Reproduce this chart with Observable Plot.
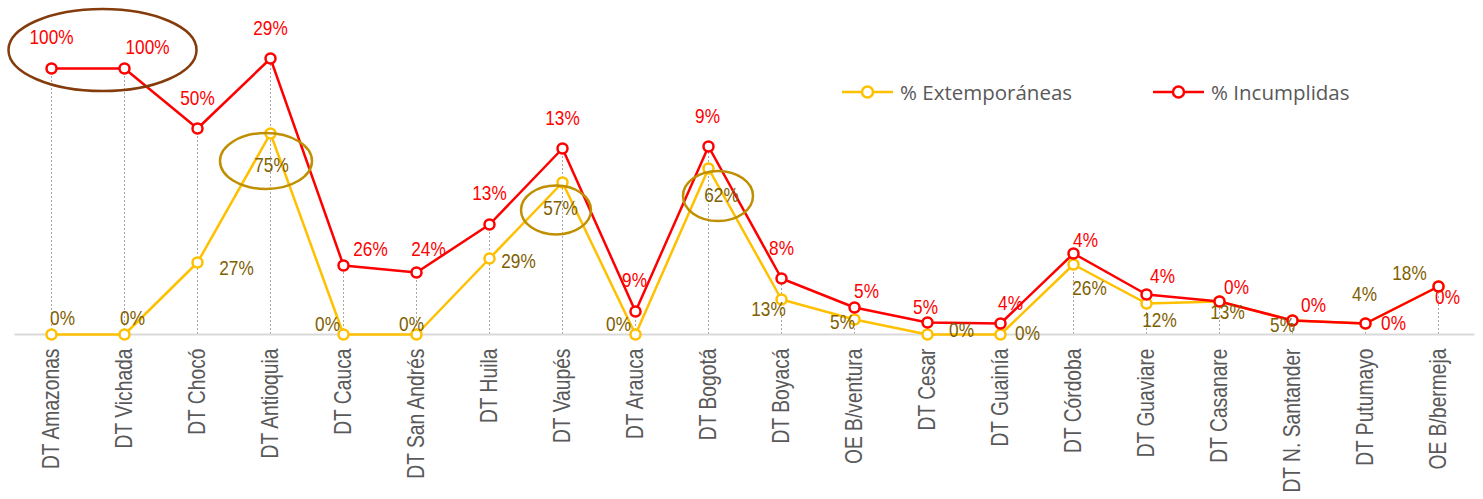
<!DOCTYPE html>
<html><head><meta charset="utf-8">
<script src="https://cdn.jsdelivr.net/npm/d3@7"></script>
<script src="https://cdn.jsdelivr.net/npm/@observablehq/plot@0.6"></script>
<style>
html,body{margin:0;padding:0;background:#fff;}
#wrap{position:relative;width:1483px;height:499px;overflow:hidden;}
.legend{position:absolute;top:78px;height:28px;font-family:"Open Sans",sans-serif;font-size:20.5px;color:#595959;display:flex;align-items:center;white-space:nowrap;}
.legend svg{margin-right:7px;}
#wrap svg [aria-label="x-axis tick label"] text{font-family:"Liberation Sans",Arial,sans-serif;font-size:23.5px;}
</style></head><body>
<div id="wrap"></div>
<script>
// ---- data ----
const categories = ["DT Amazonas","DT Vichada","DT Chocó","DT Antioquia","DT Cauca","DT San Andrés","DT Huila","DT Vaupés","DT Arauca","DT Bogotá","DT Boyacá","OE B/ventura","DT Cesar","DT Guainía","DT Córdoba","DT Guaviare","DT Casanare","DT N. Santander","DT Putumayo","OE B/bermeja"];
// plotted heights
const extemporaneas = [0,0,7.2,20.1,0,0,7.6,15.2,0,16.6,3.5,1.5,0,0,7.0,3.1,3.3,1.4,1.1,4.8];
const incumplidas   = [26.6,26.6,20.6,27.6,6.9,6.2,11.0,18.6,2.3,18.8,5.6,2.7,1.2,1.1,8.1,4.0,3.3,1.4,1.1,4.8];
// data labels shown on the chart
const extLabels = ["0%","0%","27%","75%","0%","0%","29%","57%","0%","62%","13%","5%","0%","0%","26%","12%","13%","5%","4%","18%"];
const incLabels = ["100%","100%","50%","29%","26%","24%","13%","13%","9%","9%","8%","5%","5%","4%","4%","4%","0%","0%","0%","0%"];
const seriesNames = ["% Extemporáneas","% Incumplidas"];

// ---- layout (label placement relative to each point, annotations) ----
const extLabelOffset = [[11,-16],[8,-16],[39,6],[1,32],[-16,-10],[-5,-10],[29,3],[-2,26],[-17,-10],[13,27],[-13,10],[-12,3],[34,-4],[27,-1],[16,24],[13,17],[8,11],[-10,5],[-1,-29],[-29,-13]];
const incLabelOffset = [[0,-31],[23,-21],[0,-30],[0,-30],[27,-16],[12,-23],[0,-31],[0,-30],[-1,-31],[-1,-30],[0,-30],[12,-16],[-2,-15],[10,-20],[12,-13],[16,-18],[17,-14],[21,-15],[28,0],[9,11]];
const ellipses = [
  {cats:["DT Amazonas","DT Vichada"], series:"inc", dx:15, dy:-18, rx:94, ry:41, color:"#843C0C"},
  {cats:["DT Antioquia"], series:"ext", dx:-4, dy:28, rx:46, ry:28, color:"#BF8F00"},
  {cats:["DT Vaupés"], series:"ext", dx:-6, dy:28, rx:35, ry:24.5, color:"#BF8F00"},
  {cats:["DT Bogotá"], series:"ext", dx:10, dy:28, rx:35, ry:25, color:"#BF8F00"}
];

const RED = "#FF0000", YEL = "#FFC000", YEL_TXT = "#7F6000";
const NARROW = 0.82; // emulate a narrow face by horizontal compression
const data = categories.map((c,i)=>({cat:c, ext:extemporaneas[i], inc:incumplidas[i], top:Math.max(extemporaneas[i],incumplidas[i]), extL:extLabels[i], incL:incLabels[i], eo:extLabelOffset[i], io:incLabelOffset[i]}));
const labelFont = {fontFamily:'"Liberation Sans",Arial,sans-serif', fontSize:21};

const marks = [
  Plot.ruleX(data,{x:"cat", y1:0, y2:"top", stroke:"#a6a6a6", strokeDasharray:"2,2", strokeWidth:1}),
  Plot.ruleY([0],{stroke:"#d9d9d9", strokeWidth:2}),
  Plot.axisX({tickRotate:-90, tickSize:0, tickPadding:14, fill:"#595959", label:null}),
  Plot.line(data,{x:"cat", y:"ext", stroke:YEL, strokeWidth:2.5}),
  Plot.dot(data,{x:"cat", y:"ext", r:5, stroke:YEL, fill:"white", strokeWidth:2.5}),
  Plot.line(data,{x:"cat", y:"inc", stroke:RED, strokeWidth:2.5}),
  Plot.dot(data,{x:"cat", y:"inc", r:5, stroke:RED, fill:"white", strokeWidth:2.5}),
  ...data.map(d=>Plot.text([d],{x:"cat", y:"ext", text:"extL", dx:d.eo[0], dy:d.eo[1], fill:YEL_TXT, ...labelFont})),
  ...data.map(d=>Plot.text([d],{x:"cat", y:"inc", text:"incL", dx:d.io[0], dy:d.io[1], fill:RED, ...labelFont}))
];

const plot = Plot.plot({
  width:1483, height:499,
  marginLeft:14.5, marginRight:8.5, marginTop:34, marginBottom:165,
  x:{type:"point", domain:categories, padding:0.5, label:null},
  y:{domain:[0,30], axis:null},
  style:{background:"white"},
  marks
});

const svg = d3.select(plot);
// narrow the axis tick labels along their reading direction
svg.selectAll('[aria-label="x-axis tick label"] text').each(function(){
  const t = this.getAttribute("transform") || "";
  this.setAttribute("transform", t + ` scale(${NARROW},1)`);
});

// annotation ellipses anchored on the data points through the plot scales
const sx = plot.scale("x"), sy = plot.scale("y");
ellipses.forEach(e=>{
  const pts = e.cats.map(c=>{const d = data.find(v=>v.cat===c); return [sx.apply(c), sy.apply(d[e.series])];});
  const cx = d3.mean(pts,p=>p[0]) + e.dx, cy = d3.mean(pts,p=>p[1]) + e.dy;
  svg.append("ellipse").attr("cx",cx).attr("cy",cy).attr("rx",e.rx).attr("ry",e.ry)
    .attr("fill","none").attr("stroke",e.color).attr("stroke-width",2.5);
});

const wrap = document.getElementById("wrap");
wrap.appendChild(plot);

// narrow the data labels (needs the text in the document to measure it)
svg.selectAll('g[aria-label="text"] text').each(function(){
  const w = this.getComputedTextLength();
  if (w > 0) {
    this.setAttribute("textLength", (w*NARROW).toFixed(2));
    this.setAttribute("lengthAdjust", "spacingAndGlyphs");
  }
});

// legend overlaid like the original
const legendItems = [{name:seriesNames[0], color:YEL, left:842},{name:seriesNames[1], color:RED, left:1153}];
legendItems.forEach(it=>{
  const div = document.createElement("div");
  div.className = "legend";
  div.style.left = it.left + "px";
  div.innerHTML = `<svg width="51" height="20"><line x1="0" x2="51" y1="10" y2="10" stroke="${it.color}" stroke-width="2.5"/><circle cx="25.5" cy="10" r="5.5" fill="white" stroke="${it.color}" stroke-width="2.5"/></svg><span>${it.name}</span>`;
  wrap.appendChild(div);
});
</script>
</body></html>
